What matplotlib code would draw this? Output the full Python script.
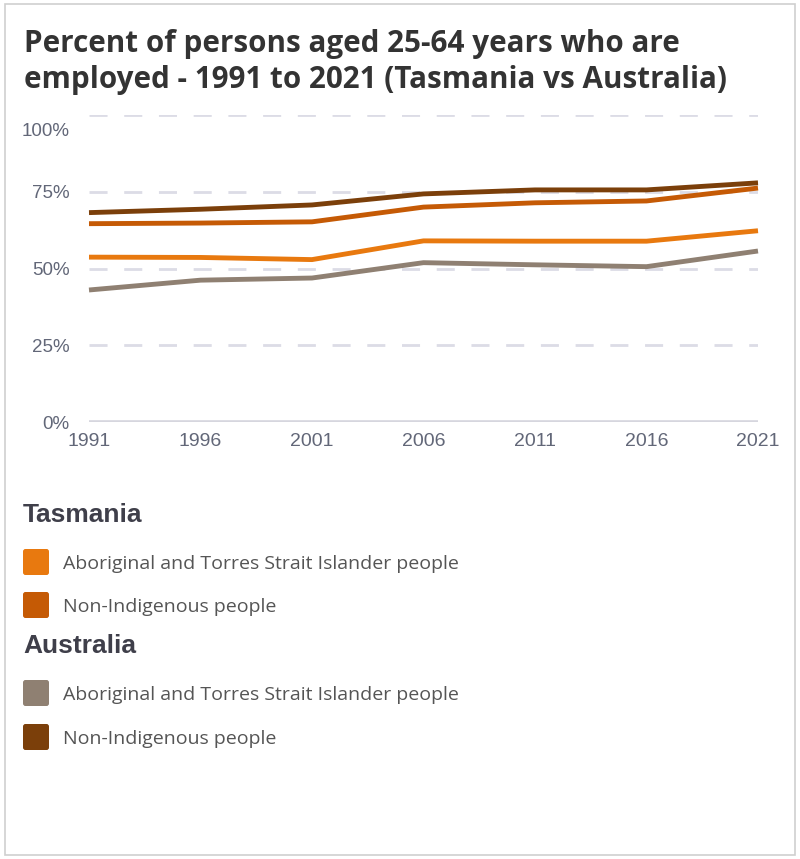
import matplotlib.pyplot as plt
from matplotlib.patches import Rectangle, FancyBboxPatch
from matplotlib.transforms import ScaledTranslation

# data (percent employed, 25-64 yrs)
years = [1991, 1996, 2001, 2006, 2011, 2016, 2021]
tas_abor = [53.7, 53.6, 52.9, 59.0, 58.9, 58.9, 62.3]
tas_nonind = [64.6, 64.8, 65.2, 70.0, 71.4, 72.0, 76.2]
aus_abor = [43.0, 46.2, 46.9, 51.9, 51.2, 50.6, 55.7]
aus_nonind = [68.2, 69.3, 70.7, 74.3, 75.6, 75.6, 77.9]

y_ticks = [0, 25, 50, 75, 100]
y_labels = ['0%', '25%', '50%', '75%', '100%']

groups = ['Tasmania', 'Australia']
series_names = ['Aboriginal and Torres Strait Islander people', 'Non-Indigenous people']
colors = {'tas_abor': '#E8790F', 'tas_nonind': '#C55A05',
          'aus_abor': '#8F8072', 'aus_nonind': '#7B3F0A'}

W, H = 800, 859
fig = plt.figure(figsize=(W / 100, H / 100), dpi=100)

# outer frame
fig.patches.append(Rectangle((5 / W, 4 / H), 790 / W, 851 / H, transform=fig.transFigure,
                             fill=False, edgecolor='#CFCFCF', linewidth=1.2))

fig.text(24 / W, 1 - 44 / H, 'Percent of persons aged 25-64 years who are',
         fontsize=21.3, fontweight='bold', family='Open Sans', color='#333333', va='center')
fig.text(24 / W, 1 - 80 / H, 'employed - 1991 to 2021 (Tasmania vs Australia)',
         fontsize=21.3, fontweight='bold', family='Open Sans', color='#333333', va='center')

ax = fig.add_axes([89 / W, 1 - 422 / H, (758 - 89) / W, (422 - 115) / H])
ax.set_xlim(1991, 2021)
ax.set_ylim(0, 100)
for s in ax.spines.values():
    s.set_visible(False)

for t in y_ticks[1:]:
    ax.axhline(t, color='#DCDCE6', lw=2.0, dashes=(6.5, 6), zorder=1)
ax.axhline(0, color='#D6D6DE', lw=2.6, zorder=1)

order = [('aus_abor', aus_abor), ('tas_abor', tas_abor),
         ('tas_nonind', tas_nonind), ('aus_nonind', aus_nonind)]
for key, vals in order:
    ax.plot(years, vals, color=colors[key], lw=3.5, solid_joinstyle='round',
            solid_capstyle='butt', zorder=3, clip_on=False)

tick_color = '#626778'
ax.set_xticks(years)
ax.set_xticklabels([str(y) for y in years], family='Liberation Sans', fontsize=14, color=tick_color)
ax.set_yticks(y_ticks)
ax.set_yticklabels(y_labels, family='Liberation Sans', fontsize=13.5, color=tick_color)
ax.tick_params(axis='y', length=0, pad=14)
ax.tick_params(axis='x', length=0, pad=8)
# top label sits a bit below its grid line in the original
top = ax.get_yticklabels()[-1]
top.set_transform(top.get_transform() + ScaledTranslation(0, -15 / 100, fig.dpi_scale_trans))

# legend
legend_rows = [
    ('head', groups[0], 515, None),
    ('item', series_names[0], 562, colors['tas_abor']),
    ('item', series_names[1], 605, colors['tas_nonind']),
    ('head', groups[1], 646, None),
    ('item', series_names[0], 693, colors['aus_abor']),
    ('item', series_names[1], 737, colors['aus_nonind']),
]
for kind, label, yp, c in legend_rows:
    if kind == 'head':
        fig.text(23 / W, 1 - yp / H, label, fontsize=19, fontweight='bold',
                 family='Liberation Sans', color='#3F3F4A', va='center')
    else:
        fig.patches.append(FancyBboxPatch((23 / W, 1 - (yp + 13) / H), 26 / W, 26 / H,
                                          boxstyle='round,pad=0,rounding_size=0.003',
                                          transform=fig.transFigure, facecolor=c, edgecolor='none'))
        fig.text(63 / W, 1 - (yp + 2) / H, label, fontsize=14, family='Open Sans',
                 color='#555555', va='center')

fig.savefig('out.png', dpi=100)
